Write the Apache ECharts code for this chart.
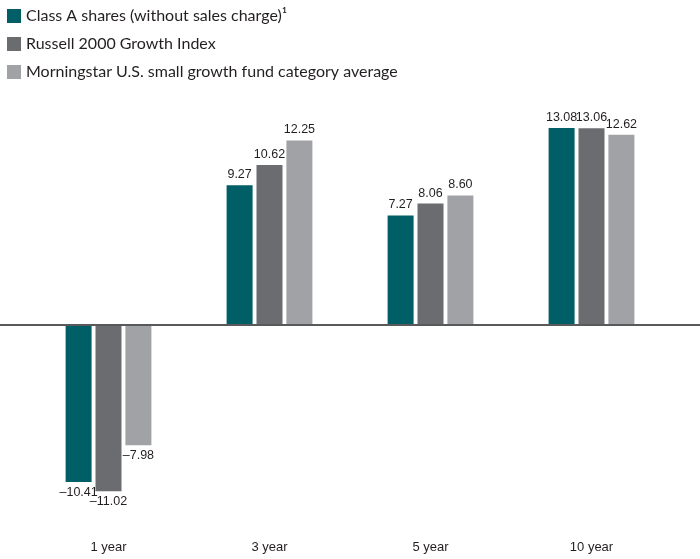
<!DOCTYPE html>
<html><head><meta charset="utf-8">
<script src="https://cdn.jsdelivr.net/npm/echarts@6/dist/echarts.min.js"></script>
<style>html,body{margin:0;padding:0;background:#fff}#c{width:700px;height:559px}</style>
</head><body><div id="c"></div>
<script>
const categories = ['1 year', '3 year', '5 year', '10 year'];
const seriesNames = ['Class A shares (without sales charge)\u00B9', 'Russell 2000 Growth Index', 'Morningstar U.S. small growth fund category average'];
const classA = [-10.41, 9.27, 7.27, 13.08];
const russell = [-11.02, 10.62, 8.06, 13.06];
const morningstar = [-7.98, 12.25, 8.60, 12.62];
const colors = ['#005F66', '#6B6C70', '#A1A2A5'];

const chart = echarts.init(document.getElementById('c'));
const valFont = '"Liberation Sans", sans-serif';
function mk(name, vals, color) {
  return {
    name: name, type: 'bar', barWidth: 26, barGap: '15%',
    itemStyle: { color: color },
    data: vals.map(v => ({
      value: v,
      label: { show: true, position: v < 0 ? 'bottom' : 'top', distance: 4,
        color: '#231F20', fontSize: 12.5, fontFamily: valFont,
        formatter: p => (p.value < 0 ? '\u2013' : '') + Math.abs(p.value).toFixed(2) }
    }))
  };
}
chart.setOption({
  animation: false,
  legend: {
    orient: 'vertical', left: 2, top: 3, itemWidth: 14, itemHeight: 14, itemGap: 12,
    icon: 'rect', textStyle: { fontSize: 16, color: '#231F20', fontFamily: 'Lato, sans-serif' },
    data: seriesNames
  },
  grid: { left: 28, right: 28, top: 99, bottom: 38, containLabel: false },
  xAxis: {
    type: 'category', data: categories,
    axisLine: { show: false, onZero: false }, axisTick: { show: false },
    axisLabel: { color: '#231F20', fontSize: 13, margin: 20, fontFamily: valFont }
  },
  yAxis: { type: 'value', min: -13, max: 15, show: false, splitLine: { show: false } },
  series: [mk(seriesNames[0], classA, colors[0]), mk(seriesNames[1], russell, colors[1]), mk(seriesNames[2], morningstar, colors[2])]
});
const y0 = chart.convertToPixel({ yAxisIndex: 0 }, 0);
chart.setOption({
  graphic: [{ type: 'line', shape: { x1: 0, y1: y0, x2: 700, y2: y0 }, style: { stroke: '#58595B', lineWidth: 2 }, z: 10 }]
});
</script></body></html>
